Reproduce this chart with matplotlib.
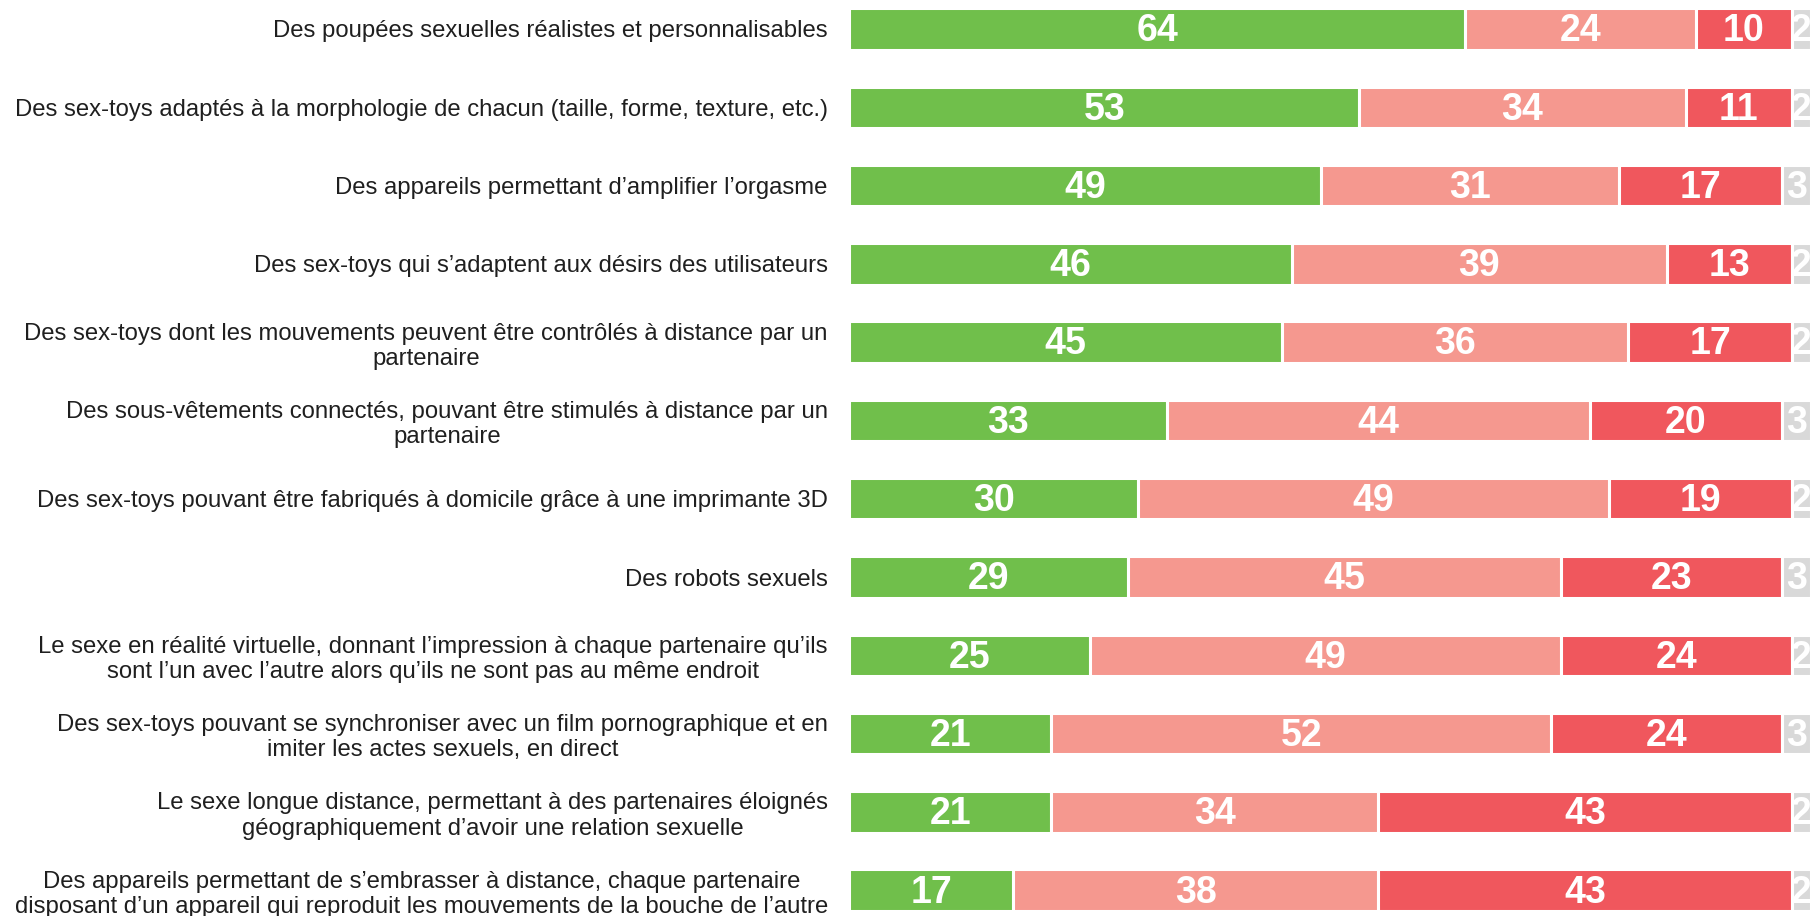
import matplotlib
matplotlib.use("Agg")
import matplotlib.pyplot as plt

# Survey items (top to bottom)
categories = [
    "Des poupées sexuelles réalistes et personnalisables",
    "Des sex-toys adaptés à la morphologie de chacun (taille, forme, texture, etc.)",
    "Des appareils permettant d\u2019amplifier l\u2019orgasme",
    "Des sex-toys qui s\u2019adaptent aux désirs des utilisateurs",
    "Des sex-toys dont les mouvements peuvent être contrôlés à distance par un\npartenaire",
    "Des sous-vêtements connectés, pouvant être stimulés à distance par un\npartenaire",
    "Des sex-toys pouvant être fabriqués à domicile grâce à une imprimante 3D",
    "Des robots sexuels",
    "Le sexe en réalité virtuelle, donnant l\u2019impression à chaque partenaire qu\u2019ils\nsont l\u2019un avec l\u2019autre alors qu\u2019ils ne sont pas au même endroit",
    "Des sex-toys pouvant se synchroniser avec un film pornographique et en\nimiter les actes sexuels, en direct",
    "Le sexe longue distance, permettant à des partenaires éloignés\ngéographiquement d\u2019avoir une relation sexuelle",
    "Des appareils permettant de s\u2019embrasser à distance, chaque partenaire\ndisposant d\u2019un appareil qui reproduit les mouvements de la bouche de l\u2019autre",
]

# Percentages per answer
pos_vals = [64, 53, 49, 46, 45, 33, 30, 29, 25, 21, 21, 17]
mid_vals = [24, 34, 31, 39, 36, 44, 49, 45, 49, 52, 34, 38]
neg_vals = [10, 11, 17, 13, 17, 20, 19, 23, 24, 24, 43, 43]
nsp_vals = [2, 2, 3, 2, 2, 3, 2, 3, 2, 3, 2, 2]

colors = ["#70BF4B", "#F5988F", "#F0575D", "#D9D9D9"]
series = [pos_vals, mid_vals, neg_vals, nsp_vals]

fig = plt.figure(figsize=(18.11, 9.16), dpi=100)
ax = fig.add_axes([0.469, 0.0, 0.531, 1.0])

y = list(range(len(categories)))
left = [0] * len(categories)
for vals, col in zip(series, colors):
    ax.barh(y, vals, left=left, height=0.53, color=col,
            edgecolor="white", linewidth=2.2)
    for yi, v, l in zip(y, vals, left):
        ax.text(l + v / 2, yi + 0.03, str(v), ha="center", va="center",
                color="white", fontsize=27, fontweight="bold",
                family="Liberation Sans")
    left = [a + b for a, b in zip(left, vals)]

ax.set_xlim(0, 100)
ax.set_ylim(len(categories) - 1 + 0.33, -0.37)
ax.set_yticks(y)
ax.set_yticklabels(categories, fontsize=17.2, family="Liberation Sans",
                   color="#1f1f1f", multialignment="center")
ax.tick_params(axis="y", length=0, pad=15.5)
ax.set_xticks([])
for s in ax.spines.values():
    s.set_visible(False)

fig.savefig("out.png", dpi=100)
